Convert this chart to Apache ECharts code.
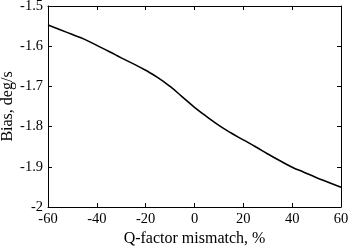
<!DOCTYPE html>
<html>
<head>
<meta charset="utf-8">
<script src="https://cdn.jsdelivr.net/npm/echarts@6/dist/echarts.min.js"></script>
<style>
    html, body { margin: 0; padding: 0; background: #fff; }
    #chart { width: 349px; height: 249px; }
</style>
</head>
<body>
<div id="chart"></div>
<script>
// 数据：Q 因子失配 (%) 与偏差 (deg/s)
const qMismatch = [-60, -55, -50, -45, -40, -35, -30, -25, -20, -15, -10, -5, 0, 5, 10, 15, 20, 25, 30, 35, 40, 45, 50, 55, 60];
const biasValues = [-1.547, -1.559, -1.571, -1.583, -1.598, -1.613, -1.629, -1.644, -1.660, -1.678, -1.700, -1.726, -1.752, -1.775, -1.797, -1.816, -1.833, -1.850, -1.868, -1.885, -1.901, -1.914, -1.927, -1.939, -1.951];
const xTicks = [-60, -40, -20, 0, 20, 40, 60];
const yTicks = [-2, -1.9, -1.8, -1.7, -1.6, -1.5];

const font = 'Liberation Serif, Times New Roman, serif';

function initializeChart() {
    const chart = echarts.init(document.getElementById('chart'));
    const axisLine = { show: true, onZero: false, lineStyle: { color: '#000', width: 1 } };
    const tick = { show: true, inside: true, length: 4, lineStyle: { color: '#000' } };

    chart.setOption({
        animation: false,
        grid: { left: 48, right: 8, top: 6, bottom: 42, outerBoundsMode: 'none', containLabel: false },
        xAxis: [
            {
                type: 'value',
                min: xTicks[0],
                max: xTicks[xTicks.length - 1],
                interval: 20,
                name: 'Q-factor mismatch, %',
                nameLocation: 'middle',
                nameGap: 24,
                nameMoveOverlap: false,
                nameTextStyle: { fontFamily: font, fontSize: 16, color: '#000' },
                axisLine: axisLine,
                axisTick: tick,
                splitLine: { show: false },
                axisLabel: { fontFamily: font, fontSize: 14.5, color: '#000', margin: 5 }
            },
            {
                type: 'value', position: 'top',
                min: xTicks[0], max: xTicks[xTicks.length - 1], interval: 20,
                axisLine: axisLine, axisTick: tick,
                axisLabel: { show: false }, splitLine: { show: false }
            }
        ],
        yAxis: [
            {
                type: 'value',
                min: yTicks[0],
                max: yTicks[yTicks.length - 1],
                interval: 0.1,
                name: 'Bias, deg/s',
                nameLocation: 'middle',
                nameGap: 32,
                nameMoveOverlap: false,
                nameTextStyle: { fontFamily: font, fontSize: 16, color: '#000' },
                axisLine: axisLine,
                axisTick: tick,
                splitLine: { show: false },
                axisLabel: {
                    fontFamily: font, fontSize: 14.5, color: '#000', margin: 5,
                    formatter: v => String(Math.round(v * 10) / 10)
                }
            },
            {
                type: 'value', position: 'right',
                min: yTicks[0], max: yTicks[yTicks.length - 1], interval: 0.1,
                axisLine: axisLine, axisTick: tick,
                axisLabel: { show: false }, splitLine: { show: false }
            }
        ],
        series: [
            {
                type: 'line',
                data: qMismatch.map((q, i) => [q, biasValues[i]]),
                smooth: true,
                showSymbol: false,
                lineStyle: { color: '#000', width: 1.6 }
            }
        ]
    });
}

initializeChart();
</script>
</body>
</html>
